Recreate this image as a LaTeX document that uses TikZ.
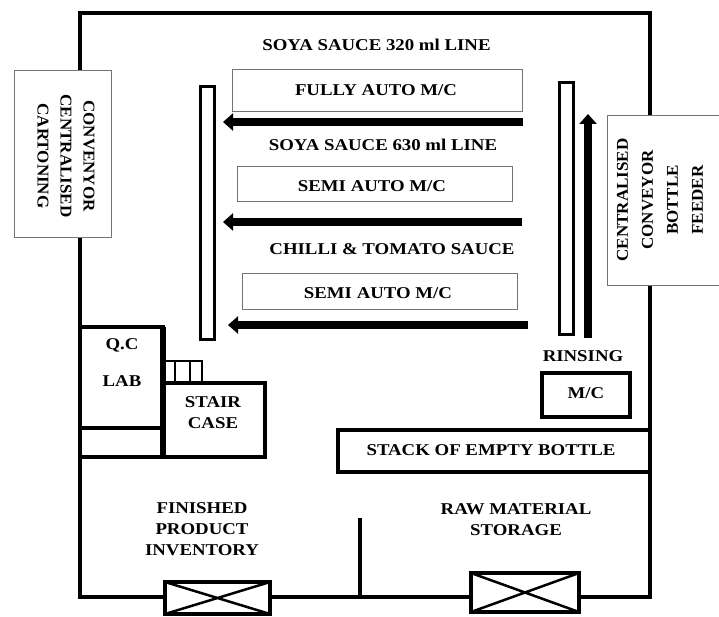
\documentclass[tikz,border=0pt]{standalone}
\usepackage{fontspec}
\setmainfont{Liberation Serif}[FakeStretch=1.14]
\newfontfamily\rotfont{Liberation Serif}[FakeStretch=1.03]
\usetikzlibrary{arrows.meta}
\begin{document}
\begin{tikzpicture}[x=1pt,y=-1pt,
  wall/.style={line width=4pt, line join=miter},
  thinwall/.style={line width=1.6pt},
  mcbox/.style={draw=black!55, line width=1pt, fill=white},
  conv/.style={draw, line width=3pt, fill=white},
  lbl/.style={font=\bfseries\fontsize{16.5}{21}\selectfont, align=center, inner sep=0pt},
  rlbl/.style={font=\rotfont\bfseries\fontsize{16.5}{23}\selectfont, align=center, inner sep=0pt},
  flow/.style={line width=7.5pt, -{Triangle[length=10pt,width=17pt]}},
  door/.style={draw, line width=4pt, fill=white}
]
\useasboundingbox (0,0) rectangle (719,617);
\fill[white] (0,0) rectangle (719,617);

% outer walls
\draw[wall] (80,71) -- (80,13) -- (650,13) -- (650,116);
\draw[wall] (650,285) -- (650,597) -- (80,597) -- (80,238);
% partition
\draw[wall] (360,518) -- (360,597);

% side boxes
\draw[mcbox] (14,71) rectangle (111,238);
\node[rlbl, rotate=-90] (carton) at (66,156) {CONVENYOR\\CENTRALISED\\CARTONING};
\draw[mcbox] (607,116) rectangle (722,285);
\node[rlbl, rotate=90, font=\rotfont\bfseries\fontsize{16.5}{25}\selectfont] (feeder) at (660,200) {CENTRALISED\\CONVEYOR\\BOTTLE\\FEEDER};

% lines
\node[lbl] (l320) at (376.5,45) {SOYA SAUCE 320 ml LINE};
\draw[mcbox] (232,70) rectangle (522,112);
\node[lbl] (m1) at (376,90) {FULLY AUTO M/C};
\coordinate (a1s) at (523,122); \coordinate (a1e) at (223,122);
\draw[flow] (a1s) -- (a1e);

\node[lbl] (l630) at (383,145) {SOYA SAUCE 630 ml LINE};
\draw[mcbox] (237,167) rectangle (512,202);
\node[lbl] (m2) at (372,186) {SEMI AUTO M/C};
\coordinate (a2s) at (522,222); \coordinate (a2e) at (223,222);
\draw[flow] (a2s) -- (a2e);

\node[lbl] (lct) at (392,249) {CHILLI \& TOMATO SAUCE};
\draw[mcbox] (242,274) rectangle (517,309);
\node[lbl] (m3) at (378,293) {SEMI AUTO M/C};
\coordinate (a3s) at (528,325); \coordinate (a3e) at (228,325);
\draw[flow] (a3s) -- (a3e);

% conveyors
\draw[conv] (200,87) rectangle (214,339);
\draw[conv] (559,83) rectangle (573,334);
\coordinate (ups) at (588,338); \coordinate (upe) at (588,114);
\draw[flow, line width=8pt] (ups) -- (upe);

% rinsing
\node[lbl] (rinse) at (583,356) {RINSING};
\draw[wall] (542,373) rectangle (630,417);
\node[lbl, text depth=0pt] (rmc) at (586,393) {M/C};

% stack
\draw[wall] (338,430) rectangle (650,472);
\node[lbl] (stack) at (491,450) {STACK OF EMPTY BOTTLE};

% QC lab and stair
\draw[wall] (80,327) rectangle (163,428);
\draw[wall] (80,428) rectangle (163,457);
\draw[wall] (163,383) rectangle (265,457);
\draw[line width=5.5pt] (163,327) -- (163,459);
\draw[thinwall] (163,361) rectangle (202,383);
\draw[line width=2.5pt] (175,361) -- (175,383);
\draw[line width=2.5pt] (190,361) -- (190,383);
\node[lbl] (qc) at (122,345) {Q.C};
\node[lbl] (lab) at (122,381) {LAB};
\node[lbl] (stair) at (213,413) {STAIR\\CASE};

% storage areas
\node[lbl] (fin) at (202,529) {FINISHED\\PRODUCT\\INVENTORY};
\node[lbl] (raw) at (516,520) {RAW MATERIAL\\STORAGE};

% doors
\draw[door] (165,582) rectangle (270,614);
\draw[line width=2.5pt] (165,582) -- (270,614) (165,614) -- (270,582);
\draw[door] (471,573) rectangle (579,612);
\draw[line width=2.5pt] (471,573) -- (579,612) (471,612) -- (579,573);
\end{tikzpicture}
\end{document}
